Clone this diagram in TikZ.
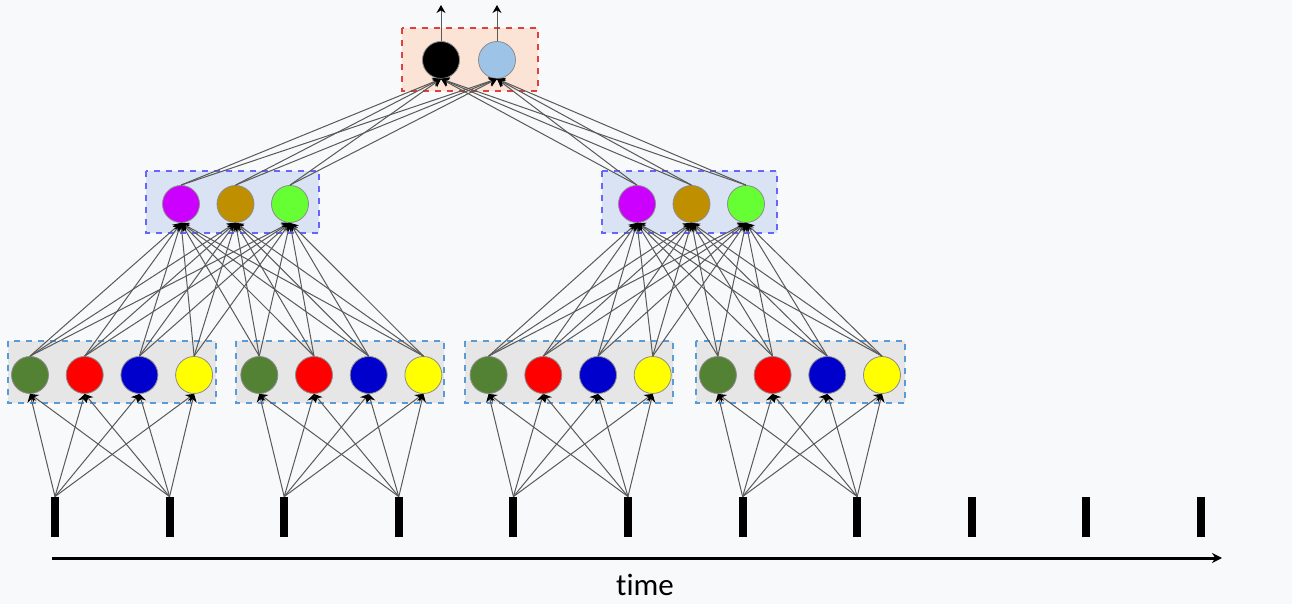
\documentclass[tikz,border=0pt]{standalone}
\usepackage{fontspec}
\setmainfont{Carlito}[Ligatures=NoCommon]
\usetikzlibrary{arrows.meta, backgrounds}
\tikzset{>=stealth}

\definecolor{pagebg}{HTML}{F8F9FA}
\definecolor{cgreen}{HTML}{548235}
\definecolor{cred}{HTML}{FF0000}
\definecolor{cblue}{HTML}{0000CC}
\definecolor{cyellow}{HTML}{FFFF00}
\definecolor{cmagenta}{HTML}{CC00FF}
\definecolor{cgold}{HTML}{BF8F00}
\definecolor{clime}{HTML}{66FF33}
\definecolor{clightblue}{HTML}{9DC3E6}
\definecolor{lowfill}{HTML}{E6E6E6}
\definecolor{lowline}{HTML}{5B9BD5}
\definecolor{midfill}{HTML}{DAE3F3}
\definecolor{midline}{HTML}{6666FF}
\definecolor{topfill}{HTML}{FBE3D6}
\definecolor{topline}{HTML}{E04040}

\tikzset{
  unit/.style={circle, draw=black!45, line width=0.4pt, minimum size=18.5pt, inner sep=0pt},
  tick/.style={fill=black, minimum width=4pt, minimum height=20pt, inner sep=0pt},
  wire/.style={black!65, line width=0.5pt, -{Stealth[length=4pt, width=4.5pt, black]}},
  lowbox/.style={fill=lowfill, draw=lowline, dashed, line width=0.6pt},
  midbox/.style={fill=midfill, draw=midline, dashed, line width=0.6pt},
  topbox/.style={fill=topfill, draw=topline, dashed, line width=0.6pt},
  axis/.style={black, line width=1.5pt, -{Stealth[length=5pt, width=5pt]}}
}

\begin{document}
\begin{tikzpicture}[x=0.5pt, y=-0.5pt, >=stealth]

	\fill[pagebg] (0,0) rectangle (1292,604);
	\useasboundingbox (0,0) rectangle (1292,604);

	% boxes
	\draw[topbox] (402,28) rectangle (538,91);
	\draw[midbox] (146,171) rectangle (319,233);
	\draw[midbox] (602,171) rectangle (777,233);
	\foreach \a/\b in {8/216, 236/444, 465/673, 696/905}
		\draw[lowbox] (\a,341) rectangle (\b,403);

	% time steps
	\foreach \k in {1,...,11}
		\node[tick] (t\k) at ({55+114.6*(\k-1)},517) {};

	% lower layer
	\foreach \g in {1,...,4}
		\foreach \i/\c in {1/cgreen, 2/cred, 3/cblue, 4/cyellow}
			\node[unit, fill=\c] (l\g\i) at ({30+229.3*(\g-1)+54.7*(\i-1)},375) {};

	% middle layer
	\foreach \m/\s in {1/181, 2/637}
		\foreach \j/\c in {1/cmagenta, 2/cgold, 3/clime}
			\node[unit, fill=\c] (m\m\j) at ({\s+54.5*(\j-1)},204) {};

	% top layer
	\node[unit, fill=black] (o1) at (441,60) {};
	\node[unit, fill=clightblue] (o2) at (497,60) {};
	\coordinate (u1) at (441,5);
	\coordinate (u2) at (497,5);

	\foreach \g/\ka/\kb in {1/1/2, 2/3/4, 3/5/6, 4/7/8}
		\foreach \i in {1,...,4} {
			\draw[wire] (t\ka.north) -- (l\g\i.south);
			\draw[wire] (t\kb.north) -- (l\g\i.south);
		}

	\foreach \m/\ga/\gb in {1/1/2, 2/3/4}
		\foreach \j in {1,2,3}
			\foreach \i in {1,...,4} {
				\draw[wire] (l\ga\i.north) -- (m\m\j.south);
				\draw[wire] (l\gb\i.north) -- (m\m\j.south);
			}

	\foreach \m in {1,2}
		\foreach \j in {1,2,3}
			\foreach \o in {1,2}
				\draw[wire] (m\m\j.north) -- (o\o.south);

	\draw[wire] (o1.north) -- (u1);
	\draw[wire] (o2.north) -- (u2);

	% time axis
	\coordinate (ts) at (52,558);
	\coordinate (te) at (1222,558);
	\draw[axis] (ts) -- (te);
	\node (time) at (645,585) {\fontsize{15.5}{18}\selectfont time};

\end{tikzpicture}
\end{document}
